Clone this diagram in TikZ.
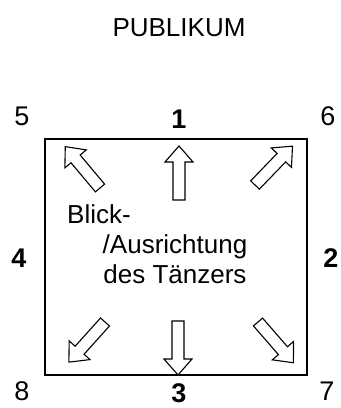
\documentclass[tikz,border=0pt]{standalone}
\usepackage{fontspec}
\setmainfont{Liberation Sans}
\begin{document}
\begin{tikzpicture}[x=1bp,y=1bp,
  txt/.style={inner sep=0pt, font=\fontsize{26bp}{30bp}\selectfont},
  num/.style={inner sep=0pt, font=\fontsize{27bp}{30bp}\selectfont},
  bnum/.style={num, font=\fontsize{27bp}{30bp}\selectfont\bfseries},
  stage/.style={draw, line width=1.8bp},
  blockarrow/.pic={
    \draw[line width=1.1bp, line join=miter, fill=white]
      (0,-6) -- (38,-6) -- (38,-14) -- (54,0) -- (38,14) -- (38,6) -- (0,6) -- cycle;
  }]
\useasboundingbox (0,0) rectangle (341,408);

% stage
\draw[stage] (45,33) rectangle (307,269);

% audience and direction labels
\node[txt] (pub) at (179,380) {PUBLIKUM};
\node[num]  (d5) at (22,292)  {5};
\node[bnum] (d1) at (179,289) {1};
\node[num]  (d6) at (328,292) {6};
\node[bnum] (d4) at (19,150)  {4};
\node[bnum] (d2) at (331,150) {2};
\node[num]  (d8) at (22,17)   {8};
\node[bnum] (d3) at (179,15)  {3};
\node[num]  (d7) at (327,17)  {7};

% facing arrows
\pic[rotate=90]  at (179,208) {blockarrow};
\pic[rotate=-90] at (178,87)  {blockarrow};
\pic[rotate=130] at (100,220) {blockarrow};
\pic[rotate=46]  at (255,223) {blockarrow};
\pic[rotate=228] at (105,86)  {blockarrow};
\pic[rotate=311] at (258,86)  {blockarrow};

% caption inside the stage
\node[txt, anchor=base west] (c1) at (67,185) {Blick-};
\node[txt, anchor=base] (c2) at (175,155) {/Ausrichtung};
\node[txt, anchor=base] (c3) at (175,125) {des Tänzers};
\end{tikzpicture}
\end{document}
